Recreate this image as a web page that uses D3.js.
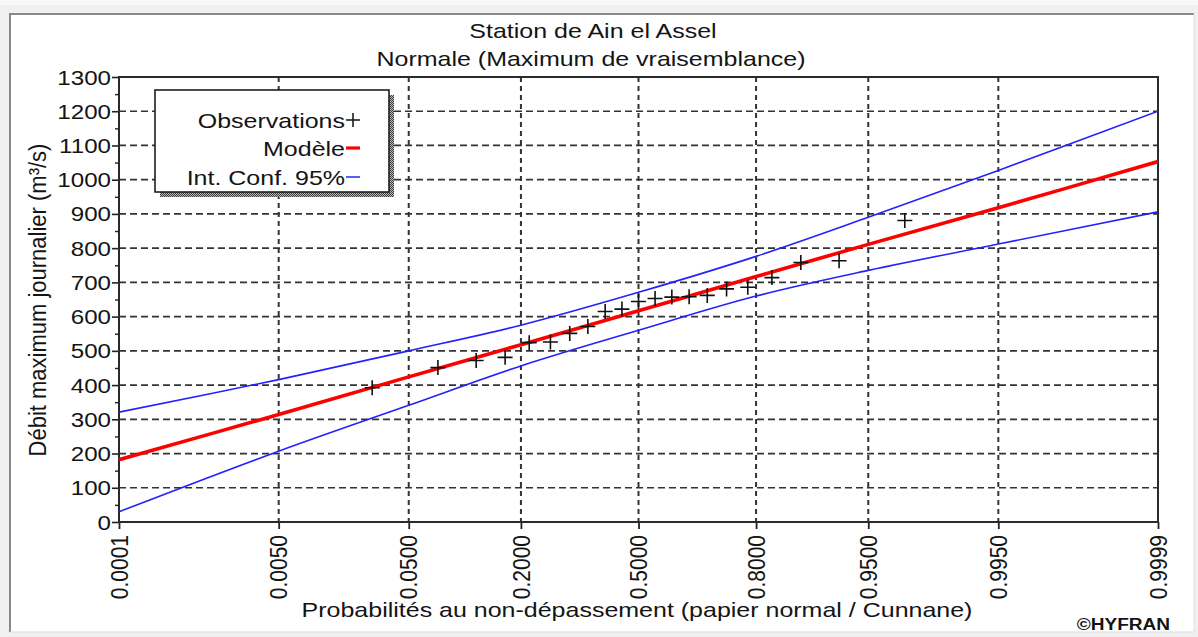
<!DOCTYPE html>
<html>
<head>
<meta charset="utf-8">
<script src="https://cdn.jsdelivr.net/npm/d3@7"></script>
<style>
  html, body { margin: 0; padding: 0; background: #f0f0f0; overflow: hidden; }
  svg { display: block; }
  text { font-family: "Liberation Sans", Arial, sans-serif; fill: #141414; }
</style>
</head>
<body>
<svg id="chart" width="1198" height="637"></svg>
<script>
// ---- Chart data -------------------------------------------------------
const titleLines = ["Station de Ain el Assel", "Normale (Maximum de vraisemblance)"];
const xTitle = "Probabilités au non-dépassement (papier normal / Cunnane)";
const yTitle = "Débit maximum journalier (m³/s)";
const credit = "©HYFRAN";

// Probability ticks of the normal paper
const probTicks = [0.0001, 0.005, 0.05, 0.2, 0.5, 0.8, 0.95, 0.995, 0.9999];
const probTickLabels = ["0.0001", "0.0050", "0.0500", "0.2000", "0.5000", "0.8000", "0.9500", "0.9950", "0.9999"];

// Discharge ticks
const yTickValues = [0, 100, 200, 300, 400, 500, 600, 700, 800, 900, 1000, 1100, 1200, 1300];
const yMinorTicks = [50, 150, 250, 350, 450, 550, 650, 750, 850, 950, 1050, 1150, 1250];

// Fitted normal model and 95% confidence band, at the probability ticks
const curveProbs  = [0.0001, 0.005, 0.05, 0.2, 0.5, 0.8, 0.95, 0.995, 0.9999];
const modelValues = [182, 314, 424, 518, 617, 717, 811, 918, 1053];
const upperValues = [321, 416, 500, 575, 671, 776, 890, 1027, 1200];
const lowerValues = [30, 207, 341, 456, 560, 660, 735, 812, 906];

// Observed annual maxima with their Cunnane plotting positions
const obsProbs = [0.0283, 0.0755, 0.1226, 0.1698, 0.2170, 0.2642, 0.3113, 0.3585, 0.4057, 0.4528,
                  0.5000, 0.5472, 0.5943, 0.6415, 0.6887, 0.7358, 0.7830, 0.8302, 0.8774, 0.9245, 0.9717];
const obsValues = [392, 451, 472, 481, 524, 526, 551, 571, 615, 622,
                   644, 653, 657, 658, 662, 681, 686, 714, 758, 763, 881];

const legendLabels = ["Observations", "Modèle", "Int. Conf. 95%"];

// ---- Helpers ----------------------------------------------------------
// Inverse standard normal CDF (Acklam's rational approximation)
function probit(p) {
  const a = [-3.969683028665376e+01, 2.209460984245205e+02, -2.759285104469687e+02, 1.383577518672690e+02, -3.066479806614716e+01, 2.506628277459239e+00];
  const b = [-5.447609879822406e+01, 1.615858368580409e+02, -1.556989798598866e+02, 6.680131188771972e+01, -1.328068155288572e+01];
  const c = [-7.784894002430293e-03, -3.223964580411365e-01, -2.400758277161838e+00, -2.549671010466150e+00, 4.374664141464968e+00, 2.938163982698783e+00];
  const d = [7.784695709041462e-03, 3.224671290700398e-01, 2.445134137142996e+00, 3.754408661907416e+00];
  const pl = 0.02425, ph = 1 - pl;
  let q, r;
  if (p < pl) {
    q = Math.sqrt(-2 * Math.log(p));
    return (((((c[0]*q+c[1])*q+c[2])*q+c[3])*q+c[4])*q+c[5]) / ((((d[0]*q+d[1])*q+d[2])*q+d[3])*q+1);
  }
  if (p > ph) {
    q = Math.sqrt(-2 * Math.log(1 - p));
    return -(((((c[0]*q+c[1])*q+c[2])*q+c[3])*q+c[4])*q+c[5]) / ((((d[0]*q+d[1])*q+d[2])*q+d[3])*q+1);
  }
  q = p - 0.5; r = q * q;
  return (((((a[0]*r+a[1])*r+a[2])*r+a[3])*r+a[4])*r+a[5])*q / (((((b[0]*r+b[1])*r+b[2])*r+b[3])*r+b[4])*r+1);
}

const SX = 1.19;          // horizontal text stretch
const FONT = 21;

const svg = d3.select("#chart");
const W = 1198, H = 637;
const plot = { left: 119, right: 1158, top: 77, bottom: 522 };

const xz = d3.scaleLinear()
  .domain([probit(probTicks[0]), probit(probTicks[probTicks.length - 1])])
  .range([plot.left, plot.right]);
const x = p => xz(probit(p));
const y = d3.scaleLinear().domain([0, 1300]).range([plot.bottom, plot.top]);

function label(g, str, tx, ty, opts = {}) {
  const t = g.append("text")
    .attr("transform", `translate(${tx},${ty}) scale(${opts.sx || SX},1)` + (opts.rotate ? ` rotate(${opts.rotate})` : ""))
    .attr("text-anchor", opts.anchor || "middle")
    .style("font-size", (opts.size || FONT) + "px")
    .text(str);
  if (opts.dy) t.attr("dy", opts.dy);
  if (opts.weight) t.style("font-weight", opts.weight);
  return t;
}

// ---- Panel ------------------------------------------------------------
svg.append("rect").attr("width", W).attr("height", H).attr("fill", "#f0f0f0");
svg.append("rect").attr("x", 0).attr("y", 0).attr("width", W).attr("height", 5).attr("fill", "#f8f8f8");
svg.append("rect").attr("x", 10).attr("y", 14).attr("width", 1184).attr("height", 618).attr("fill", "#ffffff");
svg.append("path").attr("d", "M10,632 V14 H1194").attr("fill", "none").attr("stroke", "#8a8a8a").attr("stroke-width", 2);
svg.append("path").attr("d", "M1194,14 V632 H10").attr("fill", "none").attr("stroke", "#dcdcdc").attr("stroke-width", 1);

// ---- Titles -----------------------------------------------------------
label(svg, titleLines[0], 593, 38);
label(svg, titleLines[1], 591, 66);

// ---- Grid -------------------------------------------------------------
const grid = svg.append("g").attr("stroke", "#333").attr("stroke-width", 1.7);
grid.selectAll(".hg").data(yTickValues.slice(1, -1)).join("line")
  .attr("x1", plot.left).attr("x2", plot.right)
  .attr("y1", d => y(d)).attr("y2", d => y(d))
  .attr("stroke-dasharray", "7,4");
grid.selectAll(".vg").data(probTicks.slice(1, -1)).join("line")
  .attr("x1", d => x(d)).attr("x2", d => x(d))
  .attr("y1", plot.top).attr("y2", plot.bottom)
  .attr("stroke-dasharray", "5,4").attr("stroke-width", 2);

// ---- Axes -------------------------------------------------------------
const yAxis = svg.append("g").attr("transform", `translate(${plot.left},0)`)
  .call(d3.axisLeft(y).tickValues(yTickValues).tickSize(7).tickFormat(() => ""));
yAxis.select(".domain").remove();
yAxis.selectAll("line").attr("stroke", "#222").attr("stroke-width", 1.6);
svg.append("g").attr("transform", `translate(${plot.left},0)`)
  .call(d3.axisLeft(y).tickValues(yMinorTicks).tickSize(4).tickFormat(() => ""))
  .call(g => g.select(".domain").remove())
  .selectAll("line").attr("stroke", "#222").attr("stroke-width", 1.4);
yTickValues.forEach(v => label(svg, String(v), 111, y(v), { anchor: "end", dy: "0.36em", sx: 1.15 }));

const xAxis = svg.append("g").attr("transform", `translate(0,${plot.bottom})`)
  .call(d3.axisBottom(xz).tickValues(probTicks.map(probit)).tickSize(7).tickFormat(() => ""));
xAxis.select(".domain").remove();
xAxis.selectAll("line").attr("stroke", "#222").attr("stroke-width", 1.8);
probTicks.forEach((p, i) => label(svg, probTickLabels[i], x(p), plot.bottom + 13,
  { anchor: "end", rotate: -90, dy: "0.36em", sx: 1.15 }));

// Plot frame
svg.append("rect")
  .attr("x", plot.left).attr("y", plot.top)
  .attr("width", plot.right - plot.left).attr("height", plot.bottom - plot.top)
  .attr("fill", "none").attr("stroke", "#2a2a2a").attr("stroke-width", 2);

// Axis titles
label(svg, xTitle, 637, 617);
label(svg, yTitle, 46, 300, { rotate: -90, size: 22, sx: 1.12 });
label(svg, credit, 1170, 630, { anchor: "end", size: 16, weight: "bold" });

// ---- Curves -----------------------------------------------------------
const curveData = curveProbs.map((p, i) => ({ p, m: modelValues[i], u: upperValues[i], l: lowerValues[i] }));
const lineOf = key => d3.line().x(d => x(d.p)).y(d => y(d[key])).curve(d3.curveCatmullRom.alpha(0.5));

svg.append("clipPath").attr("id", "plotclip").append("rect")
  .attr("x", plot.left).attr("y", plot.top)
  .attr("width", plot.right - plot.left).attr("height", plot.bottom - plot.top);
const curves = svg.append("g").attr("clip-path", "url(#plotclip)").attr("fill", "none");
curves.append("path").datum(curveData).attr("d", lineOf("u")).attr("stroke", "#2222ff").attr("stroke-width", 1.6);
curves.append("path").datum(curveData).attr("d", lineOf("l")).attr("stroke", "#2222ff").attr("stroke-width", 1.6);
curves.append("path").datum(curveData).attr("d", lineOf("m")).attr("stroke", "#ff0000").attr("stroke-width", 3.6);

// ---- Observations -----------------------------------------------------
const crossPath = (cx, cy, r) => `M${cx - r},${cy}H${cx + r}M${cx},${cy - r}V${cy + r}`;
svg.append("g").selectAll("path").data(obsProbs.map((p, i) => ({ p, v: obsValues[i] })))
  .join("path")
  .attr("d", d => crossPath(x(d.p), y(d.v), 7.5))
  .attr("stroke", "#111").attr("stroke-width", 1.6).attr("fill", "none");

// ---- Legend -----------------------------------------------------------
const defs = svg.append("defs");
const pat = defs.append("pattern").attr("id", "shadowDots")
  .attr("width", 2).attr("height", 2).attr("patternUnits", "userSpaceOnUse");
pat.append("rect").attr("width", 2).attr("height", 2).attr("fill", "#b8b8b8");
pat.append("rect").attr("width", 1).attr("height", 1).attr("fill", "#3c3c3c");
pat.append("rect").attr("x", 1).attr("y", 1).attr("width", 1).attr("height", 1).attr("fill", "#3c3c3c");

const lg = { x: 155, y: 90, w: 234, h: 102 };
svg.append("rect").attr("x", lg.x + 5).attr("y", lg.y + 5).attr("width", lg.w).attr("height", lg.h)
  .attr("fill", "url(#shadowDots)");
svg.append("rect").attr("x", lg.x).attr("y", lg.y).attr("width", lg.w).attr("height", lg.h)
  .attr("fill", "#fff").attr("stroke", "#1e1e1e").attr("stroke-width", 1.6);

const rowY = [120, 148, 177];
legendLabels.forEach((t, i) => label(svg, t, 345, rowY[i], { anchor: "end", dy: "0.36em" }));
svg.append("path").attr("d", crossPath(353, rowY[0], 7)).attr("stroke", "#111").attr("stroke-width", 1.5);
svg.append("line").attr("x1", 346).attr("x2", 360).attr("y1", rowY[1]).attr("y2", rowY[1])
  .attr("stroke", "#ff0000").attr("stroke-width", 3.2);
svg.append("line").attr("x1", 346).attr("x2", 360).attr("y1", rowY[2]).attr("y2", rowY[2])
  .attr("stroke", "#3333ff").attr("stroke-width", 1.6);
</script>
</body>
</html>
